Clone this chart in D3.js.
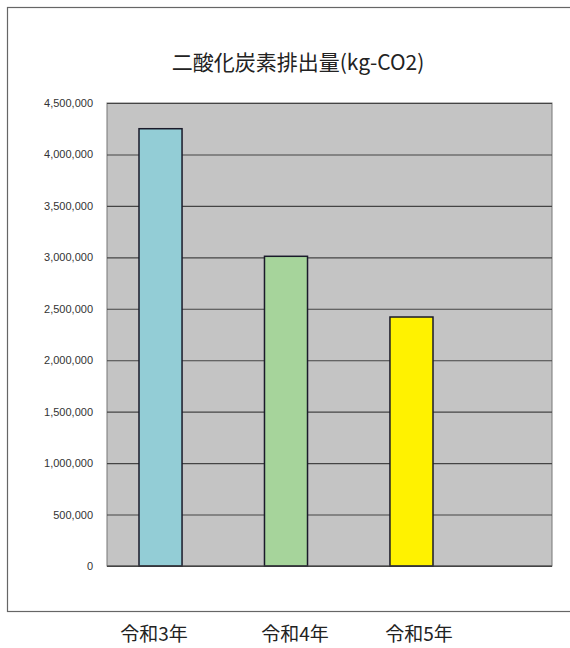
<!DOCTYPE html>
<html>
<head>
<meta charset="utf-8">
<script src="https://cdn.jsdelivr.net/npm/d3@7"></script>
<style>
  html, body { margin: 0; padding: 0; background: #fff; }
  body { width: 570px; height: 648px; overflow: hidden; }
  svg { display: block; }
</style>
</head>
<body>
<script>
const width = 570;
const height = 648;

const title = "二酸化炭素排出量(kg-CO2)";
const categories = ["令和3年", "令和4年", "令和5年"];
const emissions = [4250000, 3010000, 2420000];
const barColors = ["#93cdd6", "#a6d49b", "#fff200"];
const yTicks = [0, 500000, 1000000, 1500000, 2000000, 2500000, 3000000, 3500000, 4000000, 4500000];
const yMax = 4500000;

// plot area box
const plot = { left: 107, top: 103, right: 552, bottom: 566 };

const svg = d3.create("svg")
  .attr("width", width)
  .attr("height", height)
  .attr("viewBox", [0, 0, width, height]);

// chart area border (runs off the right edge like the scan)
svg.append("rect")
  .attr("x", 7.5)
  .attr("y", 7.5)
  .attr("width", width + 10)
  .attr("height", 604)
  .attr("fill", "#fff")
  .attr("stroke", "#666")
  .attr("stroke-width", 1.2);

svg.append("text")
  .attr("x", 298)
  .attr("y", 70)
  .attr("text-anchor", "middle")
  .attr("font-family", "'Noto Sans CJK JP', sans-serif")
  .attr("font-size", 21)
  .attr("fill", "#222")
  .text(title);

const y = d3.scaleLinear()
  .domain([0, yMax])
  .range([plot.bottom, plot.top]);

const x = d3.scaleBand()
  .domain(categories)
  .range([139, 433])
  .paddingInner(0.657)
  .paddingOuter(0);

svg.append("rect")
  .attr("x", plot.left)
  .attr("y", plot.top)
  .attr("width", plot.right - plot.left)
  .attr("height", plot.bottom - plot.top)
  .attr("fill", "#c4c4c4")
  .attr("stroke", "#777")
  .attr("stroke-width", 1);

// gridlines + labels via axis
const yAxis = d3.axisLeft(y)
  .tickValues(yTicks)
  .tickSize(-(plot.right - plot.left))
  .tickPadding(14)
  .tickFormat(d3.format(","));

const gy = svg.append("g")
  .attr("transform", `translate(${plot.left},0)`)
  .call(yAxis);

gy.select(".domain").remove();
gy.selectAll(".tick line")
  .attr("stroke", "#444")
  .attr("stroke-width", 1.1);
gy.selectAll(".tick text")
  .attr("font-family", "'Liberation Sans', Arial, sans-serif")
  .attr("font-size", 11)
  .attr("fill", "#333");

svg.append("g")
  .selectAll("rect")
  .data(emissions)
  .join("rect")
  .attr("x", (d, i) => x(categories[i]))
  .attr("y", (d) => y(d))
  .attr("width", x.bandwidth())
  .attr("height", (d) => y(0) - y(d))
  .attr("fill", (d, i) => barColors[i])
  .attr("stroke", "#1a1a2a")
  .attr("stroke-width", 1.5);

// baseline
svg.append("line")
  .attr("x1", plot.left)
  .attr("x2", plot.right)
  .attr("y1", plot.bottom)
  .attr("y2", plot.bottom)
  .attr("stroke", "#444")
  .attr("stroke-width", 1.1);

// category labels sit below the chart border
const labelX = [154, 295, 419];
svg.append("g")
  .selectAll("text")
  .data(categories)
  .join("text")
  .attr("x", (d, i) => labelX[i])
  .attr("y", 641)
  .attr("text-anchor", "middle")
  .attr("font-family", "'Noto Sans CJK JP', sans-serif")
  .attr("font-size", 19)
  .attr("fill", "#222")
  .text((d) => d);

document.body.appendChild(svg.node());
</script>
</body>
</html>
